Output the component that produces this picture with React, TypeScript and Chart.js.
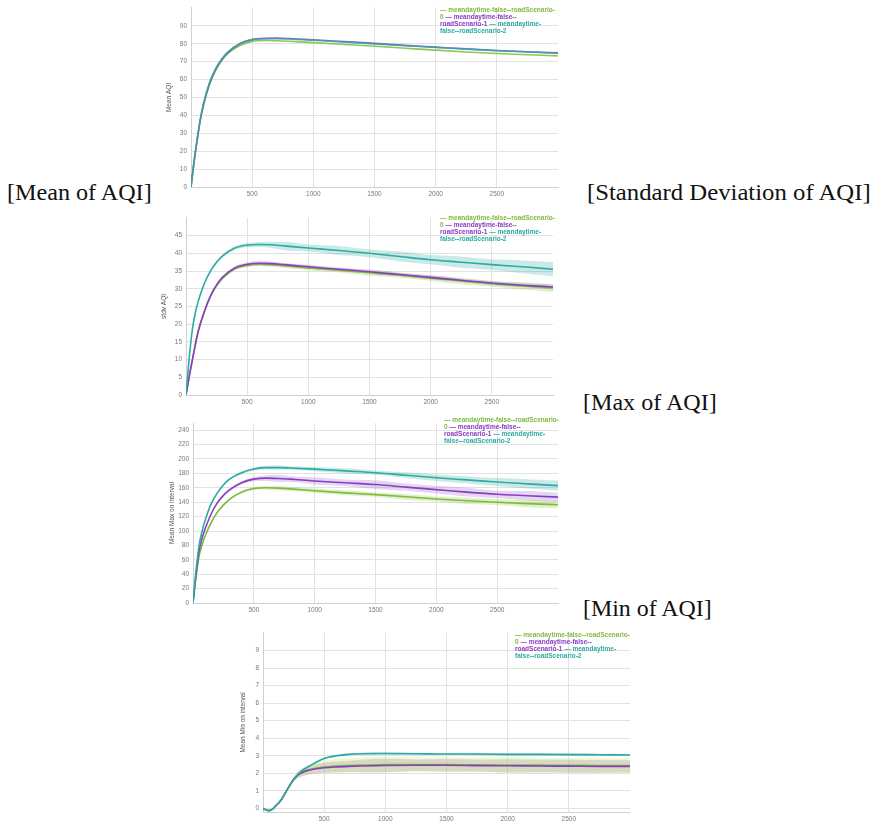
import React, { useEffect, useRef } from 'react';
import { Chart, registerables } from 'chart.js';
Chart.register(...registerables);

// ---------- shared ----------
const X = [0, 25, 50, 75, 100, 150, 200, 250, 300, 400, 500, 600, 700, 800, 1000, 1250, 1500, 1750, 2000, 2250, 2500, 2750, 3000];
const X_TICKS = [500, 1000, 1500, 2000, 2500];
const SERIES_LABELS = ['meandaytime-false--roadScenario-0', 'meandaytime-false--roadScenario-1', 'meandaytime-false--roadScenario-2'];
const LEGEND_LINES: [string, number][][] = [
  [['— meandaytime-false--roadScenario-', 0]],
  [['0 ', 0], ['— meandaytime-false--', 1]],
  [['roadScenario-1 ', 1], ['— meandaytime-', 2]],
  [['false--roadScenario-2', 2]],
];
const LINE_COLORS = ['#7fba3c', '#8a3cc4', '#2eaaa2'];
const BAND_COLORS = ['rgba(140,200,70,0.28)', 'rgba(150,95,200,0.25)', 'rgba(45,170,160,0.25)'];

// ---------- Mean of AQI ----------
const MEAN_Y_TICKS = [0, 10, 20, 30, 40, 50, 60, 70, 80, 90];
const MEAN_G = [0, 14, 26, 37, 45, 57, 65, 70.5, 74.5, 79, 81.3, 81.8, 81.7, 81.4, 80.6, 79.6, 78.6, 77.5, 76.4, 75.4, 74.5, 73.8, 73.2];
const MEAN_P = [0, 14, 26, 37, 45.5, 57.5, 65.5, 71, 75, 80, 82.3, 83, 83.1, 82.9, 82.2, 81.2, 80.2, 79.1, 78.1, 77.1, 76.2, 75.5, 74.9];
const MEAN_T = [0, 14.5, 26.5, 37.5, 46, 58, 66, 71.3, 75.3, 80.2, 82.3, 82.8, 82.8, 82.6, 81.9, 80.9, 79.9, 78.9, 77.9, 77, 76.1, 75.4, 74.7];

// ---------- Std of AQI ----------
const STD_Y_TICKS = [0, 5, 10, 15, 20, 25, 30, 35, 40, 45];
const STD_G = [0, 5, 9.5, 14, 18, 23.5, 27.8, 30.8, 33, 35.6, 36.6, 36.9, 36.8, 36.5, 35.9, 35.2, 34.5, 33.8, 33, 32.2, 31.4, 30.8, 30.2];
const STD_P = [0, 5, 9.5, 14, 18, 23.6, 28, 31.1, 33.3, 35.9, 36.9, 37.2, 37.1, 36.8, 36.2, 35.5, 34.8, 34, 33.2, 32.4, 31.6, 31, 30.5];
const STD_T = [0, 10, 18, 23, 26.5, 31.5, 35, 37.5, 39.3, 41.5, 42.3, 42.5, 42.4, 42.1, 41.5, 40.8, 40, 39.1, 38.2, 37.5, 36.8, 36.2, 35.5];
const STD_G_BAND = [0, 0.2, 0.3, 0.3, 0.3, 0.3, 0.3, 0.3, 0.4, 0.4, 0.5, 0.5, 0.6, 0.6, 0.7, 0.6, 0.8, 0.7, 0.8, 0.9, 0.8, 1.0, 1.1];
const STD_P_BAND = [0, 0.2, 0.3, 0.3, 0.3, 0.3, 0.3, 0.3, 0.4, 0.5, 0.6, 0.7, 0.6, 0.5, 0.6, 0.5, 0.6, 0.5, 0.6, 0.5, 0.6, 0.6, 0.7];
const STD_T_BAND = [0, 0.3, 0.4, 0.4, 0.4, 0.4, 0.4, 0.4, 0.4, 0.5, 0.6, 0.7, 0.9, 1.2, 1.0, 1.3, 1.1, 1.4, 1.3, 1.6, 1.5, 1.8, 2.0];

// ---------- Max of AQI ----------
const MAX_Y_TICKS = [0, 20, 40, 60, 80, 100, 120, 140, 160, 180, 200, 220, 240];
const MAX_G = [0, 36, 65, 81, 93, 112, 126, 136, 144, 154, 159, 160, 159.5, 158.5, 156, 153, 150.5, 147.5, 144.5, 142, 140, 138, 136.5];
const MAX_P = [0, 40, 72, 90, 103, 124, 139, 149.5, 157, 167, 172, 173.5, 173, 172, 169.5, 167, 164.5, 161, 157.5, 154, 151, 149, 147];
const MAX_T = [0, 45, 80, 100, 115, 138, 153, 164, 172, 181, 186, 188, 188, 187.5, 186, 183.5, 181, 177.5, 174, 171, 168, 165.5, 163];
const MAX_G_BAND = [0, 1, 1, 1, 1, 1, 1.5, 1.5, 1.5, 2, 2, 2.5, 3, 2.5, 3, 3.5, 3, 4, 3.5, 4.5, 4, 5, 5];
const MAX_P_BAND = [0, 1, 1, 1, 1, 1.5, 1.5, 2, 2, 2.5, 3, 4, 5, 4, 5, 4.5, 6, 5, 5.5, 6, 5, 6.5, 6];
const MAX_T_BAND = [0, 1, 1, 1, 1, 1, 1.5, 1.5, 1.5, 2, 2, 2.5, 3, 2.5, 3, 3.5, 3, 4, 4.5, 5, 5.5, 6.5, 7];

// ---------- Min of AQI ----------
const MIN_Y_TICKS = [0, 1, 2, 3, 4, 5, 6, 7, 8, 9];
const MIN_G = [0, -0.08, -0.12, -0.05, 0.12, 0.5, 1.1, 1.65, 2.0, 2.25, 2.36, 2.42, 2.45, 2.47, 2.5, 2.5, 2.5, 2.49, 2.48, 2.47, 2.46, 2.45, 2.45];
const MIN_P = [0, -0.08, -0.12, -0.05, 0.12, 0.5, 1.1, 1.65, 1.98, 2.22, 2.32, 2.37, 2.4, 2.42, 2.45, 2.46, 2.46, 2.44, 2.43, 2.42, 2.41, 2.4, 2.4];
const MIN_T = [0, -0.08, -0.12, -0.05, 0.12, 0.5, 1.1, 1.65, 2.05, 2.5, 2.85, 3.0, 3.08, 3.12, 3.13, 3.12, 3.1, 3.1, 3.08, 3.08, 3.07, 3.06, 3.05];
const MIN_G_BAND = [0, 0, 0, 0, 0.02, 0.05, 0.08, 0.12, 0.2, 0.3, 0.35, 0.4, 0.4, 0.42, 0.45, 0.4, 0.42, 0.4, 0.45, 0.42, 0.4, 0.42, 0.4];
const MIN_P_BAND = [0, 0, 0, 0, 0.02, 0.05, 0.08, 0.12, 0.2, 0.25, 0.28, 0.3, 0.32, 0.35, 0.38, 0.33, 0.36, 0.34, 0.38, 0.35, 0.37, 0.36, 0.35];
const MIN_T_BAND = [0, 0, 0, 0, 0.02, 0.03, 0.04, 0.04, 0.05, 0.05, 0.05, 0.06, 0.06, 0.06, 0.07, 0.06, 0.06, 0.07, 0.06, 0.06, 0.07, 0.06, 0.06];
const MIN_BAND_COLORS = ['rgba(200,230,120,0.3)', 'rgba(140,115,165,0.3)', 'rgba(45,170,160,0.3)'];

type PanelProps = {
  left: number; top: number; width: number; height: number;
  yWidth: number; xHeight: number; padTop: number; padRight: number;
  yMin: number; yMax: number; yTicks: number[]; yTitle: string; titlePad: number;
  series: number[][]; bands?: number[][]; bandColors?: string[];
  legendX: number; legendY: number; lineAlpha?: number;
};

function withAlpha(hex: string, a: number) {
  const r = parseInt(hex.slice(1, 3), 16), g = parseInt(hex.slice(3, 5), 16), b = parseInt(hex.slice(5, 7), 16);
  return `rgba(${r},${g},${b},${a})`;
}

function Panel(p: PanelProps) {
  const ref = useRef<HTMLCanvasElement>(null);
  useEffect(() => {
    if (!ref.current) return;
    const datasets: any[] = [];
    if (p.bands) {
      p.series.forEach((vals, si) => {
        const w = p.bands![si];
        datasets.push({ label: '_u' + si, data: X.map((x, i) => ({ x, y: vals[i] + w[i] })), borderWidth: 0, pointRadius: 0, fill: false, cubicInterpolationMode: 'monotone', order: 10 });
        datasets.push({ label: '_l' + si, data: X.map((x, i) => ({ x, y: vals[i] - w[i] })), borderWidth: 0, pointRadius: 0, fill: '-1', backgroundColor: (p.bandColors || BAND_COLORS)[si], cubicInterpolationMode: 'monotone', order: 10 });
      });
    }
    const lineOrder = [2, 1, 0];
    p.series.forEach((vals, si) => {
      datasets.push({
        label: SERIES_LABELS[si], data: X.map((x, i) => ({ x, y: vals[i] })),
        borderColor: withAlpha(LINE_COLORS[si], p.lineAlpha ?? 1), borderWidth: 1.6, pointRadius: 0, fill: false,
        cubicInterpolationMode: 'monotone', order: lineOrder[si],
      });
    });
    const legendPlugin = {
      id: 'customLegend',
      afterDraw(chart: any) {
        const ctx = chart.ctx;
        ctx.save();
        ctx.font = 'bold 6.5px "Liberation Sans", Arial, sans-serif';
        ctx.textBaseline = 'middle';
        LEGEND_LINES.forEach((line, li) => {
          let cx = p.legendX;
          const cy = p.legendY + li * 7;
          line.forEach(([txt, ci]) => {
            ctx.fillStyle = LINE_COLORS[ci];
            ctx.fillText(txt, cx, cy);
            cx += ctx.measureText(txt).width;
          });
        });
        ctx.restore();
      },
    };
    const tickFont = { family: '"Liberation Sans", Arial, sans-serif', size: 6.5 };
    const chart = new Chart(ref.current, {
      type: 'line',
      data: { datasets },
      plugins: [legendPlugin],
      options: {
        animation: false, responsive: false,
        layout: { padding: { top: p.padTop, right: p.padRight, left: 0, bottom: 0 } },
        plugins: { legend: { display: false }, tooltip: { enabled: false } },
        scales: {
          x: {
            type: 'linear', min: 0, max: 3000,
            afterBuildTicks: (axis: any) => { axis.ticks = X_TICKS.map((v) => ({ value: v })); },
            afterFit: (axis: any) => { axis.height = p.xHeight; },
            ticks: { font: tickFont, color: '#777', padding: 3, maxRotation: 0, callback: (v: any) => String(v) },
            grid: { color: '#e2e2e2', drawTicks: false },
            border: { color: '#d0d0d0' },
          },
          y: {
            type: 'linear', min: p.yMin, max: p.yMax,
            afterBuildTicks: (axis: any) => { axis.ticks = p.yTicks.map((v) => ({ value: v })); },
            afterFit: (axis: any) => { axis.width = p.yWidth; },
            ticks: { font: tickFont, color: '#777', padding: 4, callback: (v: any) => String(v) },
            grid: { color: '#e2e2e2', drawTicks: false },
            border: { color: '#d0d0d0' },
            title: { display: true, text: p.yTitle, font: tickFont, color: '#555', padding: { top: p.titlePad, bottom: 0 } },
          },
        },
      } as any,
    });
    return () => chart.destroy();
  }, []);
  return (
    <canvas ref={ref} width={p.width} height={p.height}
      style={{ position: 'absolute', left: p.left, top: p.top, width: p.width, height: p.height }} />
  );
}

const CAPTIONS = [
  { text: '[Mean of AQI]', left: 7, top: 180, width: 146 },
  { text: '[Standard Deviation of AQI]', left: 587, top: 180, width: 285 },
  { text: '[Max of AQI]', left: 583, top: 389.5, width: 135 },
  { text: '[Min of AQI]', left: 583, top: 596, width: 130 },
];
const CAPTION_FONT = '24px "Liberation Serif", "Times New Roman", serif';

function Caption({ text, left, top, width }: { text: string; left: number; top: number; width: number }) {
  let scale = 1;
  try {
    const c = document.createElement('canvas').getContext('2d');
    if (c) { c.font = CAPTION_FONT; const w = c.measureText(text).width; if (w > 0) scale = width / w; }
  } catch (e) { /* ignore */ }
  return (
    <div style={{ position: 'absolute', left, top, font: CAPTION_FONT, lineHeight: '24px', whiteSpace: 'nowrap', color: '#111', transform: `scaleX(${scale})`, transformOrigin: 'left top' }}>{text}</div>
  );
}

export default function App() {
  return (
    <div style={{ position: 'absolute', left: 0, top: 0, width: 877, height: 827, background: '#fff', overflow: 'hidden' }}>
      <Panel left={160} top={0} width={400} height={200} yWidth={31} xHeight={13} padTop={7} padRight={2}
        yMin={0} yMax={100} yTicks={MEAN_Y_TICKS} yTitle="Mean AQI" titlePad={5}
        series={[MEAN_G, MEAN_P, MEAN_T]} legendX={280} legendY={10} lineAlpha={0.85} />
      <Panel left={160} top={210} width={400} height={200} yWidth={26} xHeight={15} padTop={5} padRight={7}
        yMin={0} yMax={50} yTicks={STD_Y_TICKS} yTitle="stdv AQI" titlePad={0}
        series={[STD_G, STD_P, STD_T]} bands={[STD_G_BAND, STD_P_BAND, STD_T_BAND]} legendX={280} legendY={8} />
      <Panel left={160} top={415} width={400} height={200} yWidth={33} xHeight={12} padTop={8} padRight={2}
        yMin={0} yMax={250} yTicks={MAX_Y_TICKS} yTitle="Mean Max on interval" titlePad={8}
        series={[MAX_G, MAX_P, MAX_T]} bands={[MAX_G_BAND, MAX_P_BAND, MAX_T_BAND]} legendX={284} legendY={5} />
      <Panel left={230} top={625} width={400} height={202} yWidth={33} xHeight={15} padTop={7} padRight={0}
        yMin={-0.2} yMax={10} yTicks={MIN_Y_TICKS} yTitle="Mean Min on interval" titlePad={9}
        series={[MIN_G, MIN_P, MIN_T]} bands={[MIN_G_BAND, MIN_P_BAND, MIN_T_BAND]} bandColors={MIN_BAND_COLORS}
        legendX={285} legendY={10} />
      {CAPTIONS.map((c) => <Caption key={c.text} {...c} />)}
    </div>
  );
}
